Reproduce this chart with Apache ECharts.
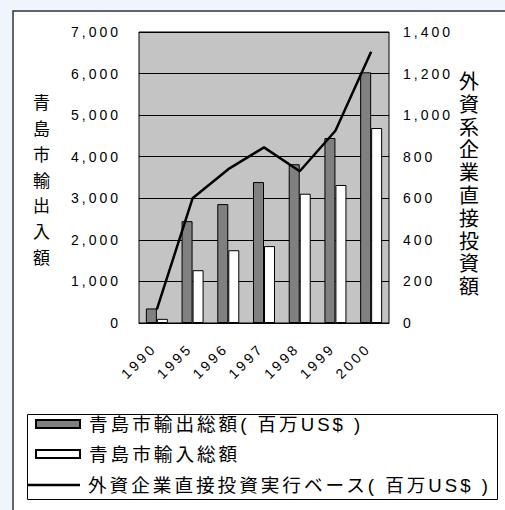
<!DOCTYPE html>
<html><head><meta charset="utf-8">
<script src="https://cdn.jsdelivr.net/npm/echarts@6/dist/echarts.min.js"></script>
<style>
html,body{margin:0;padding:0;background:#eef5fc;}
#chart{width:505px;height:510px;}
#chart text{letter-spacing:3px;}
</style></head><body><div id="chart"></div>
<script>
const years = ['1990','1995','1996','1997','1998','1999','2000'];
const exportTotal = [350, 2450, 2860, 3390, 3820, 4450, 6030];
const importTotal = [100, 1270, 1750, 1850, 3110, 3320, 4690];
const fdi = [65, 600, 740, 845, 730, 925, 1305];
const leftTicks = [0, 1000, 2000, 3000, 4000, 5000, 6000, 7000];
const rightTicks = [0, 200, 400, 600, 800, 1000, 1200, 1400];
const leftAxisName = '青島市輸出入額';
const rightAxisName = '外資系企業直接投資額';
const seriesNames = ['青島市輸出総額( 百万US$ )', '青島市輸入総額', '外資企業直接投資実行ベース( 百万US$ )'];

const FONT = "'Liberation Sans', Arial, 'Noto Sans CJK JP', sans-serif";
const fmt = v => Number(v).toLocaleString('en-US');
const vertical = s => '{s| }\n' + s.split('').join('\n');

const chart = echarts.init(document.getElementById('chart'), null, {renderer: 'svg'});
const legendText = {fontSize: 18.6, lineHeight: 20, color: '#000', fontFamily: FONT};
chart.setOption({
  animation: false,
  backgroundColor: '#eef5fc',
  textStyle: {fontFamily: FONT, color: '#000'},
  graphic: [
    {type: 'rect', z: -10, silent: true, shape: {x: 13, y: 11, width: 600, height: 600},
     style: {fill: '#fff', stroke: '#333', lineWidth: 1.5}},
    {type: 'rect', z: -5, silent: true, shape: {x: 27.5, y: 414.5, width: 470, height: 85},
     style: {fill: '#fff', stroke: '#000', lineWidth: 1}}
  ],
  grid: {left: 139, top: 32, width: 250, height: 291, show: true,
         backgroundColor: '#c4c4c4', borderColor: '#000', borderWidth: 1,
         outerBoundsMode: 'none'},
  legend: [
    {data: [seriesNames[0]], left: 35, top: 414, padding: 0, icon: 'rect', itemWidth: 44, itemHeight: 8,
     selectedMode: false, textStyle: Object.assign({padding: [0,0,0,4]}, legendText)},
    {data: [seriesNames[1]], left: 35, top: 444, padding: 0, icon: 'rect', itemWidth: 44, itemHeight: 8,
     selectedMode: false, textStyle: Object.assign({padding: [0,0,0,4]}, legendText)},
    {data: [seriesNames[2]], left: 27, top: 475, padding: 0, icon: 'rect', itemWidth: 53, itemHeight: 2.5,
     selectedMode: false, textStyle: Object.assign({padding: [0,0,0,3]}, legendText)}
  ],
  xAxis: {
    type: 'category', data: years, boundaryGap: true,
    axisLine: {lineStyle: {color: '#000', width: 1}},
    axisTick: {inside: true, length: 5, lineStyle: {color: '#000'}},
    axisLabel: {rotate: 45, margin: 20, interval: 0, fontSize: 14, color: '#000', padding: [0, 4, 0, 0]}
  },
  yAxis: [
    {type: 'value', position: 'left', min: leftTicks[0], max: leftTicks[leftTicks.length-1], interval: leftTicks[1]-leftTicks[0],
     axisLine: {show: false}, axisTick: {show: false},
     splitLine: {lineStyle: {color: '#000', width: 1}},
     axisLabel: {margin: 18, fontSize: 14, color: '#000', formatter: fmt},
     name: vertical(leftAxisName), nameLocation: 'middle', nameRotate: 0, nameGap: 86,
     nameTextStyle: {fontSize: 17, lineHeight: 25.8, color: '#000', rich: {s: {fontSize: 1, lineHeight: 7}}}},
    {type: 'value', position: 'right', min: rightTicks[0], max: rightTicks[rightTicks.length-1], interval: rightTicks[1]-rightTicks[0],
     axisLine: {show: false}, axisTick: {show: false}, splitLine: {show: false},
     axisLabel: {margin: 14, fontSize: 14, color: '#000', formatter: fmt},
     name: vertical(rightAxisName), nameLocation: 'middle', nameRotate: 0, nameGap: 70,
     nameTextStyle: {fontSize: 20, lineHeight: 22.8, color: '#000', rich: {s: {fontSize: 1, lineHeight: 14}}}}
  ],
  series: [
    {name: seriesNames[0], type: 'bar', data: exportTotal, yAxisIndex: 0, barWidth: 11, barGap: '0%',
     itemStyle: {color: '#808080', borderColor: '#000', borderWidth: 1}},
    {name: seriesNames[1], type: 'bar', data: importTotal, yAxisIndex: 0, barWidth: 11, barGap: '0%',
     itemStyle: {color: '#ffffff', borderColor: '#000', borderWidth: 1}},
    {name: seriesNames[2], type: 'line', data: fdi, yAxisIndex: 1, symbol: 'none', z: 5,
     lineStyle: {color: '#000', width: 2.5}, itemStyle: {color: '#000'}}
  ]
});
</script></body></html>
